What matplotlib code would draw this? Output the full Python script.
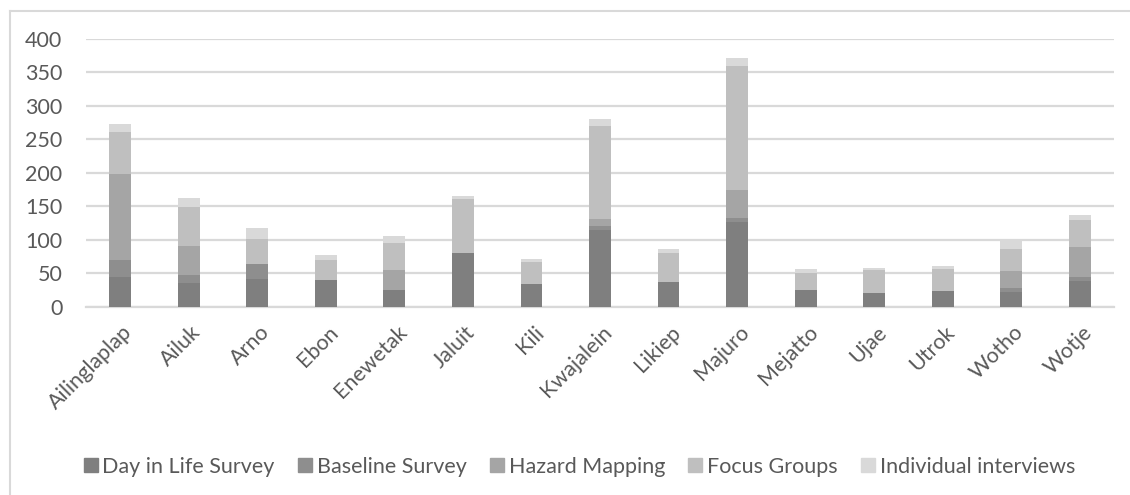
import matplotlib.pyplot as plt
import numpy as np
from matplotlib.lines import Line2D
from matplotlib.transforms import ScaledTranslation

plt.rcParams['font.family'] = ['Lato', 'DejaVu Sans']

atolls = ['Ailinglaplap', 'Ailuk', 'Arno', 'Ebon', 'Enewetak', 'Jaluit', 'Kili',
          'Kwajalein', 'Likiep', 'Majuro', 'Mejatto', 'Ujae', 'Utrok', 'Wotho', 'Wotje']

day_in_life = [44, 35, 41, 40, 25, 80, 34, 115, 37, 127, 25, 20, 23, 22, 38]
baseline = [26, 12, 23, 0, 0, 0, 0, 6, 0, 6, 0, 0, 0, 6, 6]
hazard = [128, 44, 0, 0, 30, 0, 0, 10, 0, 41, 0, 0, 0, 25, 45]
focus = [63, 58, 37, 30, 40, 81, 33, 139, 43, 186, 25, 35, 33, 33, 41]
individual = [12, 13, 17, 7, 11, 4, 4, 10, 6, 12, 6, 3, 5, 14, 7]

series = [
    ('Day in Life Survey', day_in_life, '#7f7f7f'),
    ('Baseline Survey', baseline, '#8e8e8e'),
    ('Hazard Mapping', hazard, '#a5a5a5'),
    ('Focus Groups', focus, '#bfbfbf'),
    ('Individual interviews', individual, '#d9d9d9'),
]

text_color = '#595959'
grid_color = '#d9d9d9'
fs = 15.5

fig = plt.figure(figsize=(11.3, 4.95), dpi=100)
ax = fig.add_axes([86 / 1130, 1 - 306.7 / 495, 1028 / 1130, 267.7 / 495])

x = np.arange(len(atolls))
bottom = np.zeros(len(atolls))
for name, vals, color in series:
    ax.bar(x, vals, width=0.32, bottom=bottom, color=color, label=name, zorder=3)
    bottom += np.array(vals)

ax.set_xlim(-0.5, len(atolls) - 0.5)
ax.set_ylim(0, 400)
ax.set_yticks(range(0, 401, 50))
ax.yaxis.grid(True, color=grid_color, linewidth=1.6, zorder=0)
ax.set_axisbelow(True)
for side in ['top', 'right', 'left']:
    ax.spines[side].set_visible(False)
ax.spines['bottom'].set_color(grid_color)
ax.spines['bottom'].set_linewidth(1.6)

ax.tick_params(axis='both', length=0, colors=text_color, labelsize=fs)
ax.tick_params(axis='y', pad=17)
ax.tick_params(axis='x', pad=11)
ax.set_xticks(x)
ax.set_xticklabels(atolls, rotation=45, ha='right', va='top', rotation_mode='anchor')
for lbl in ax.get_xticklabels():
    lbl.set_transform(lbl.get_transform() + ScaledTranslation(0.02, 0, fig.dpi_scale_trans))

handles = [Line2D([], [], marker='s', linestyle='none', markersize=10,
                  markerfacecolor=c, markeredgecolor=c) for _, _, c in series]
fig.legend(handles, [s[0] for s in series], loc='center', bbox_to_anchor=(0.511, 1 - 467 / 495),
           ncol=5, frameon=False, fontsize=fs, labelcolor=text_color,
           handletextpad=0.05, columnspacing=0.9, handlelength=1.0)

# chart area border (left and top edges)
fig.add_artist(Line2D([10 / 1130, 10 / 1130], [0, 1 - 11 / 495], transform=fig.transFigure,
                      color=grid_color, linewidth=1.5))
fig.add_artist(Line2D([10 / 1130, 1], [1 - 11 / 495, 1 - 11 / 495], transform=fig.transFigure,
                      color=grid_color, linewidth=1.5))

fig.savefig('out.png', dpi=100)
